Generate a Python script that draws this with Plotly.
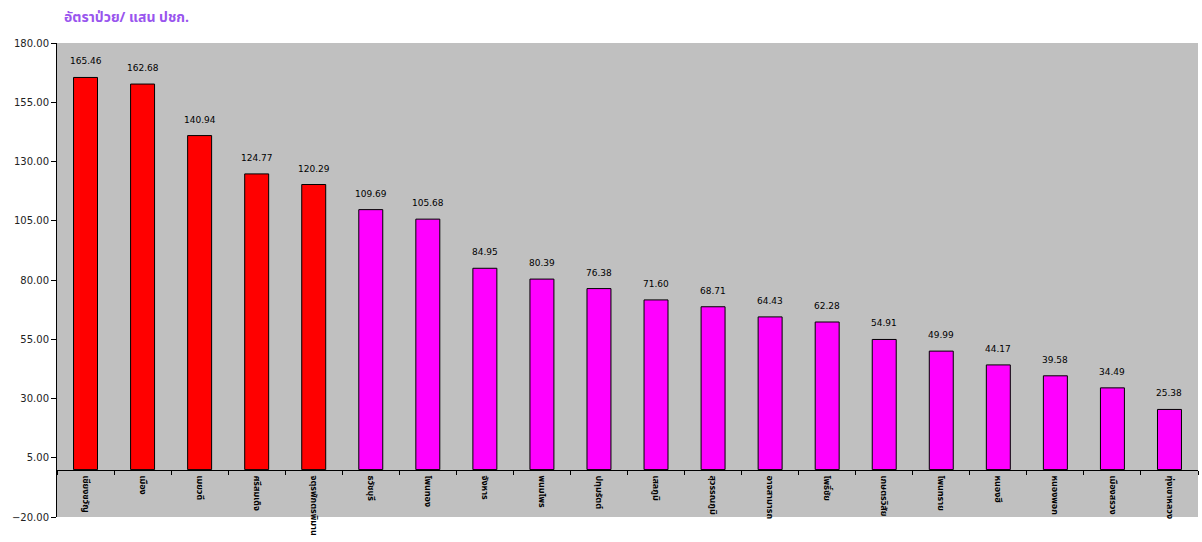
import plotly.graph_objects as go

districts = ["เชียงขวัญ", "เมือง", "เมยวดี", "ศรีสมเด็จ", "จตุรพักตรพิมาน",
             "ธวัชบุรี", "โพนทอง", "จังหาร", "พนมไพร", "ปทุมรัตต์",
             "เสลภูมิ", "สุวรรณภูมิ", "อาจสามารถ", "โพธิ์ชัย", "เกษตรวิสัย",
             "โพนทราย", "หนองฮี", "หนองพอก", "เมืองสรวง", "ทุ่งเขาหลวง"]
rates = [165.46, 162.68, 140.94, 124.77, 120.29,
         109.69, 105.68, 84.95, 80.39, 76.38,
         71.60, 68.71, 64.43, 62.28, 54.91,
         49.99, 44.17, 39.58, 34.49, 25.38]
highlight_count = 5
y_ticks = [-20, 5, 30, 55, 80, 105, 130, 155, 180]
title_text = "อัตราป่วย/ แสน ปชก."

colors = ["#FF0000" if i < highlight_count else "#FF00FF" for i in range(len(rates))]

fig = go.Figure()
fig.add_trace(go.Bar(
    x=districts, y=rates,
    marker=dict(color=colors, line=dict(color="#000000", width=1)),
    hoverinfo="x+y",
))

for d, v in zip(districts, rates):
    fig.add_annotation(
        x=d, y=v, text=f"{v:.2f}", showarrow=False,
        yanchor="bottom", yshift=9,
        font=dict(family="Verdana, DejaVu Sans, sans-serif", size=9, color="#000000"),
    )

fig.add_annotation(
    xref="paper", yref="paper", x=0.004, y=1.0, yshift=13,
    xanchor="left", yanchor="bottom", showarrow=False,
    text=f"<b>{title_text}</b>",
    font=dict(family="Tahoma, Noto Sans Thai, Noto Sans, sans-serif", size=14, color="#9955EE"),
)

y_min, y_max = -20, 180
fig.update_layout(
    width=1202, height=542,
    margin=dict(l=57, r=4, t=43, b=25),
    paper_bgcolor="#FFFFFF",
    plot_bgcolor="#C0C0C0",
    showlegend=False,
    bargap=0.58,
    xaxis=dict(
        type="category",
        anchor="free",
        position=(0 - y_min) / (y_max - y_min),
        automargin=False,
        tickvals=districts,
        ticktext=[f"<b>{d}</b>" for d in districts],
        showline=True, linecolor="#000000", linewidth=1,
        ticks="outside", tickson="boundaries", ticklen=4, tickcolor="#000000",
        ticklabelstandoff=3,
        tickangle=90,
        tickfont=dict(family="Tahoma, Noto Sans Thai, Noto Sans, sans-serif", size=9, color="#000000"),
        showgrid=False, zeroline=False,
    ),
    yaxis=dict(
        range=[y_min, y_max],
        automargin=False,
        tickvals=y_ticks,
        tickformat=".2f",
        showline=True, linecolor="#000000", linewidth=1,
        ticks="outside", ticklen=5, tickcolor="#000000",
        tickfont=dict(family="Tahoma, DejaVu Sans, sans-serif", size=10, color="#222222"),
        showgrid=False, zeroline=False,
    ),
)

fig.write_html("out.html", config={"displayModeBar": False},
               post_script="document.body.style.margin='0';document.body.style.padding='0';")
